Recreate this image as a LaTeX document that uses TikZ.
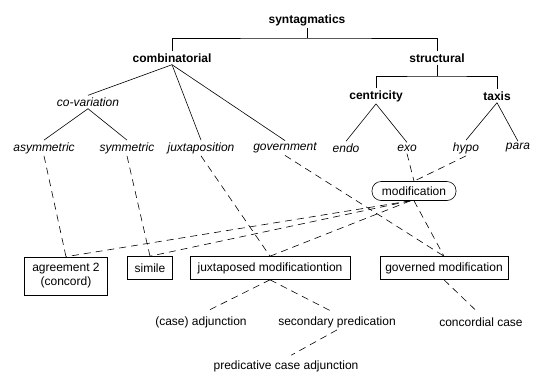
\documentclass[tikz,border=0pt]{standalone}
\usepackage{fontspec}
\setmainfont{Liberation Sans}

\begin{document}
\begin{tikzpicture}[x=1pt,y=-1pt,line width=0.6pt,
  every node/.style={font=\fontsize{12}{14}\selectfont,inner sep=2pt},
  head/.style={font=\fontsize{12}{14}\selectfont\bfseries},
  kind/.style={font=\fontsize{12}{14}\selectfont\itshape},
  box/.style={draw,minimum height=23pt,inner xsep=4pt},
  link/.style={dash pattern=on 7pt off 5pt}]
%\draw[thin,gray,step=20] (0,0) grid (540,376);
\useasboundingbox (0,0) rectangle (540,376);

\node[head] (syn) at (307,20) {syntagmatics};
\node[head] (comb) at (172,58) {combinatorial};
\node[head] (struct) at (437,58) {structural};
\node[head] (centr) at (376,96) {centricity};
\node[head] (taxis) at (497,96) {taxis};

\node[kind] (covar) at (88,102) {co-variation};
\node[kind] (asym) at (44,148) {asymmetric};
\node[kind] (sym) at (127,148) {symmetric};
\node[kind] (juxta) at (201,148) {juxtaposition};
\node[kind] (gov) at (285,148) {government};
\node[kind] (endo) at (346,148) {endo};
\node[kind] (exo) at (407,148) {exo};
\node[kind] (hypo) at (466,148) {hypo};
\node[kind] (para) at (518,148) {para};

\node[draw,rounded corners=9pt,minimum width=84pt,minimum height=19pt,inner sep=0pt] (modif) at (414,191) {modification};

\node[box,align=center,minimum width=83pt,minimum height=38pt] (agree) at (66,276) {agreement 2\\(concord)};
\node[box,minimum width=45pt] (simile) at (150,268) {simile};
\node[box,minimum width=160pt] (jbox) at (270,268) {juxtaposed modificationtion};
\node[box,minimum width=128pt] (gbox) at (444,268) {governed modification};

\node (caseadj) at (201,322) {(case) adjunction};
\node (secpred) at (337,322) {secondary predication};
\node (conc) at (481,322) {concordial case};
\node (predadj) at (286,366) {predicative case adjunction};

% brackets
\coordinate (synbar) at (307,38);
\draw (syn.south) -- (synbar);
\draw (comb.north) |- (synbar) -| (struct.north);
\coordinate (structbar) at (437,76);
\draw (struct.south) -- (structbar);
\draw (centr.north) |- (structbar) -| (taxis.north);

\draw (comb.south) -- (covar.north);
\draw (comb.south) -- (juxta.north);
\draw (comb.south) -- (gov.north);
\draw (covar.south) -- (asym.north);
\draw (covar.south) -- (sym.north);
\draw (centr.south) -- (endo.north);
\draw (centr.south) -- (exo.north);
\draw (taxis.south) -- (hypo.north);
\draw (taxis.south) -- (para.north);

% dashed links
\draw[link] (asym.south) -- (agree.north);
\draw[link] (sym.south) -- (simile.north);
\draw[link] (juxta.south) -- (jbox.north);
\draw[link] (gov.south) -- (gbox.north);
\draw[link] (exo.south) -- (modif.north);
\draw[link] (hypo.south) -- (modif.north);
\draw[link] (modif.south) -- (gbox.north);
\draw[link] (modif.250) -- (agree.north);
\draw[link] (modif.250) -- (simile.north);
\draw[link] (modif.250) -- (jbox.north);
\draw[link,shorten >=8pt] (jbox.south) -- (caseadj.north);
\draw[link,shorten >=8pt] (jbox.south) -- (secpred.north);
\draw[link,shorten >=6pt] (secpred.south) -- (predadj.north);
\draw[link,shorten >=6pt] (gbox.south) -- (conc.north);
\end{tikzpicture}
\end{document}
